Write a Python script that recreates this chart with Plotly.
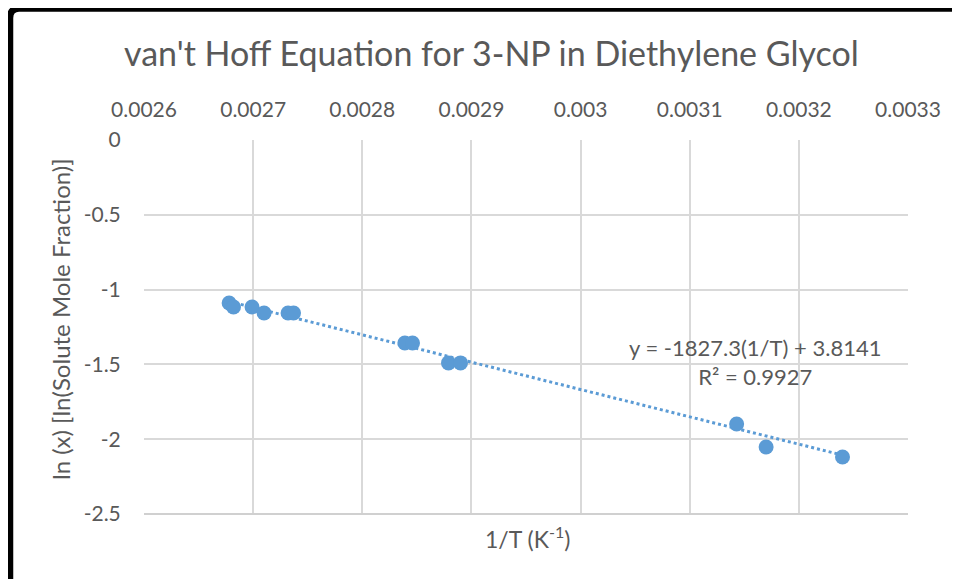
import plotly.graph_objects as go

# Data
inv_T = [0.002678, 0.002682, 0.002699, 0.002710, 0.002732, 0.002737,
         0.002839, 0.002846, 0.002879, 0.002890, 0.003143, 0.003170, 0.003240]
ln_x = [-1.090, -1.116, -1.116, -1.156, -1.156, -1.156,
        -1.357, -1.357, -1.490, -1.490, -1.898, -2.052, -2.119]

# Linear trendline reported on chart
slope = -1827.3
intercept = 3.8141
r_squared = 0.9927

x_tickvals = [0.0026, 0.0027, 0.0028, 0.0029, 0.0030, 0.0031, 0.0032, 0.0033]
x_ticktext = ["0.0026", "0.0027", "0.0028", "0.0029", "0.003", "0.0031", "0.0032", "0.0033"]
y_tickvals = [0, -0.5, -1, -1.5, -2, -2.5]
y_ticktext = ["0", "-0.5", "-1", "-1.5", "-2", "-2.5"]

title_text = "van't Hoff Equation for 3-NP in Diethylene Glycol"
x_title = "1/T (K<sup>-1</sup>)"
y_title = "ln (x) [ln(Solute Mole Fraction)]"

W, H = 960, 579
OFF = 8  # page body offset
# desired plot area on screen: x 144..908, y 140..514
L, T = 144 - OFF, 140 - OFF
PW, PH = 764, 374
R, B = W - L - PW, H - T - PH

def px(xs):
    return (xs - OFF - L) / PW

def py(ys):
    return (T + PH - (ys - OFF)) / PH

BLUE = "#5B9BD5"
GRAY_TXT = "#595959"
GRID = "#d9d9d9"
FONT = "Lato"

trend_x = [min(inv_T), max(inv_T)]
trend_y = [slope * v + intercept for v in trend_x]

fig = go.Figure()
fig.add_trace(go.Scatter(x=trend_x, y=trend_y, mode="lines",
                         line=dict(color=BLUE, width=3, dash="dot"),
                         hoverinfo="skip", showlegend=False))
fig.add_trace(go.Scatter(x=inv_T, y=ln_x, mode="markers",
                         marker=dict(color=BLUE, size=15),
                         showlegend=False))

fig.update_layout(
    width=W, height=H,
    margin=dict(l=L, r=R, t=T, b=B),
    paper_bgcolor="white", plot_bgcolor="white",
    font=dict(family=FONT, color=GRAY_TXT, size=21),
    showlegend=False,
    xaxis=dict(side="top", range=[0.0026, 0.0033],
               tickvals=x_tickvals, ticktext=x_ticktext,
               showgrid=True, gridcolor=GRID, gridwidth=1.5,
               zeroline=False, showline=False,
               ticks="outside", ticklen=14, tickcolor="rgba(0,0,0,0)",
               tickfont=dict(size=21, color=GRAY_TXT, family=FONT)),
    yaxis=dict(range=[-2.5, 0],
               tickvals=y_tickvals, ticktext=y_ticktext,
               showgrid=True, gridcolor=GRID, gridwidth=1.5,
               zeroline=False, showline=False,
               ticks="outside", ticklen=18, tickcolor="rgba(0,0,0,0)",
               tickfont=dict(size=21, color=GRAY_TXT, family=FONT)),
    shapes=[
        # bottom axis line
        dict(type="line", xref="paper", yref="paper", x0=0, x1=1, y0=0, y1=0,
             line=dict(color="#d0d0d0", width=2)),
        # outer black chart border (left and top visible)
        dict(type="path", xref="paper", yref="paper",
             path=(f"M {px(10)},{py(700)} L {px(10)},{py(18)} "
                   f"Q {px(10)},{py(8.5)} {px(19)},{py(8.5)} L {px(1100)},{py(8.5)}"),
             line=dict(color="black", width=6.5)),
    ],
    annotations=[
        dict(text=title_text, xref="paper", yref="paper", x=px(491), y=py(53),
             showarrow=False, xanchor="center", yanchor="middle",
             font=dict(size=34, color=GRAY_TXT, family=FONT)),
        dict(text=x_title, xref="paper", yref="paper", x=px(527), y=py(537),
             showarrow=False, xanchor="center", yanchor="middle",
             font=dict(size=23, color=GRAY_TXT, family=FONT)),
        dict(text=y_title, xref="paper", yref="paper", x=px(60), y=py(320),
             showarrow=False, xanchor="center", yanchor="middle", textangle=-90,
             font=dict(size=24, color=GRAY_TXT, family=FONT)),
        dict(text=f"y = {slope}(1/T) + {intercept}<br>R² = {r_squared}",
             xref="paper", yref="paper", x=px(755), y=py(362),
             showarrow=False, xanchor="center", yanchor="middle", align="center",
             font=dict(size=22, color=GRAY_TXT, family=FONT)),
    ],
)

fig.write_html("out.html")
